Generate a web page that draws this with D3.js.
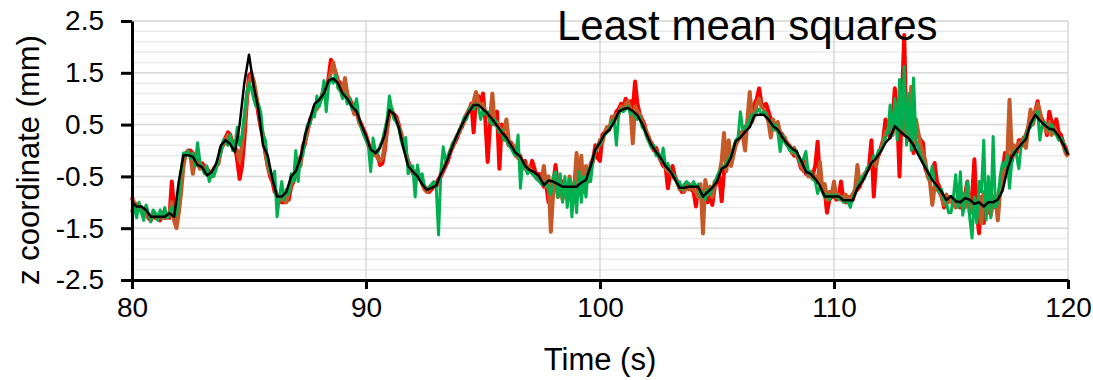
<!DOCTYPE html>
<html>
<head>
<meta charset="utf-8">
<script src="https://cdn.jsdelivr.net/npm/d3@7"></script>
<style>
  html, body { margin: 0; padding: 0; background: #fff; overflow: hidden; }
  svg { display: block; }
</style>
</head>
<body>
<div id="plot"></div>
<script>
// Tick values
const xTicks = [80, 90, 100, 110, 120];
const yTicks = [-2.5, -1.5, -0.5, 0.5, 1.5, 2.5];

// Time grid: coloured series every 0.1 s, black every 0.2 s, from 80 s
const tStart = 80;
const stepFine = 0.1;
const stepCoarse = 0.2;

// z coordinate (mm), one row per second
const redZ = [
  -0.9,-1.1,-1.15,-1.05,-1.12,-1.2,-1.1,-1.3,-1.35,-1.25,
  -1.3,-1.25,-1.35,-1.2,-1.3,-1.25,-1.3,-0.6,-1.1,-1.3,
  -1.1,-0.6,-0.2,-0.05,0.0,0.0,-0.05,-0.15,-0.2,-0.3,
  -0.25,-0.3,-0.35,-0.4,-0.45,-0.35,-0.3,-0.2,0.0,0.15,
  0.25,0.35,0.3,0.15,0.1,-0.2,-0.55,-0.3,0.2,0.9,
  1.45,1.5,1.3,1.05,0.7,0.45,0.25,-0.05,-0.3,-0.5,
  -0.6,-0.8,-0.85,-0.95,-1.0,-1.0,-0.9,-0.95,-0.7,-0.6,
  -0.45,-0.35,-0.2,0.0,0.15,0.4,0.55,0.7,0.75,0.9,
  0.95,1.0,1.15,1.2,1.4,1.75,1.65,1.5,1.35,1.3,
  1.15,1.2,1.05,1.0,0.9,0.8,0.75,0.6,0.5,0.4,
  0.3,0.15,0.0,-0.05,0.0,-0.1,-0.28,-0.25,0.0,0.4,
  0.7,0.75,0.7,0.65,0.5,0.3,0.1,-0.05,-0.2,-0.35,
  -0.4,-0.45,-0.5,-0.55,-0.6,-0.7,-0.75,-0.8,-0.75,-0.7,
  -0.65,-0.55,-0.5,-0.4,-0.3,-0.2,-0.05,0.1,0.15,0.25,
  0.4,0.45,0.6,0.7,0.75,0.9,0.35,0.95,1.05,0.9,
  1.1,0.6,-0.22,0.5,0.8,0.7,0.75,-0.35,0.5,0.3,
  0.25,0.1,0.15,0.0,-0.1,-0.05,-0.15,-0.25,-0.2,-0.4,
  -0.4,-0.2,-0.35,-0.54,-0.45,-0.6,-0.7,-0.65,-1.0,-0.6,
  -0.65,-0.28,-0.7,-0.8,-0.6,-0.75,-0.9,-0.7,-0.8,-0.65,
  -0.7,-0.8,-0.6,-0.75,-0.65,-0.5,-0.35,-0.2,0.1,-0.15,
  -0.2,0.3,0.35,0.4,0.45,0.5,0.6,0.75,0.8,0.9,
  0.85,1.0,0.9,0.95,0.8,1.33,0.9,0.7,0.6,0.5,
  0.3,0.2,0.15,0.0,0.05,-0.1,-0.2,-0.3,-0.3,-0.73,
  -0.45,-0.3,-0.5,-0.6,-0.7,-0.8,-0.75,-0.7,-0.65,-0.75,
  -0.8,-1.08,-0.7,-0.85,-0.9,-0.75,-1.0,-0.8,-1.05,-0.7,
  -0.6,-0.5,-0.98,-0.4,-0.3,-0.25,-0.1,0.0,0.15,0.2,
  0.3,0.35,0.45,0.5,0.8,0.65,0.9,1.0,1.2,0.9,
  0.85,0.9,0.75,0.6,0.55,0.5,0.45,0.35,0.3,0.2,
  0.15,0.05,0.0,-0.1,-0.05,-0.2,-0.35,-0.2,-0.45,-0.4,
  -0.5,-0.45,-0.3,0.17,-0.6,-0.7,-0.75,-1.2,-0.95,-0.9,
  -0.85,-0.95,-0.9,-0.6,-0.95,-1.0,-0.9,-1.0,-0.95,-0.8,
  -0.75,-0.7,-0.55,-0.5,-0.4,-0.3,0.2,-0.89,-0.2,-0.1,
  0.05,0.2,0.6,0.35,0.25,0.6,1.2,0.7,-0.5,0.9,
  2.23,0.3,0.6,1.1,-0.05,0.45,0.3,0.2,0.15,-0.35,
  -0.45,-0.5,-0.4,-0.24,-0.6,-0.7,-0.85,-1.1,-0.95,-0.9,
  -0.95,-1.05,-1.0,-0.9,-1.1,-1.0,-0.85,-0.6,-1.2,-0.9,
  -0.17,-1.2,-1.6,-0.9,-1.4,-1.0,-1.2,-0.8,-1.0,-1.1,
  -0.9,-0.7,-0.5,-0.05,-0.3,-0.1,-0.2,0.05,-0.05,0.2,
  0.2,0.1,0.3,0.45,0.55,0.6,0.75,0.95,0.7,0.6,
  0.5,0.3,0.75,0.55,0.45,0.6,0.35,0.3,0.15,0.05,
  -0.1
];

const brownZ = [
  -1.2,-1.0,-1.05,-1.15,-1.1,-1.25,-1.18,-1.25,-1.3,-1.2,
  -1.25,-1.3,-1.2,-1.3,-1.25,-1.3,-1.2,-1.0,-1.35,-1.5,
  -1.2,-0.8,-0.3,-0.05,-0.05,-0.1,-0.45,-0.2,-0.25,-0.35,
  -0.3,-0.35,-0.4,-0.45,-0.5,-0.4,-0.3,-0.25,0.05,0.1,
  0.2,0.3,0.25,0.1,0.05,0.0,-0.2,0.1,0.5,1.0,
  1.3,1.45,1.35,1.1,0.8,0.5,0.3,0.0,-0.3,-0.45,
  -0.55,-0.7,-0.9,-0.85,-0.95,-0.95,-1.0,-0.8,-0.65,-0.55,
  -0.4,-0.15,-0.3,0.1,0.2,0.35,0.6,0.65,0.85,0.8,
  0.9,1.05,1.2,1.25,1.35,1.5,1.7,1.45,1.3,1.25,
  1.1,1.4,1.1,0.95,0.85,0.7,0.75,0.55,0.45,0.35,
  0.25,0.1,0.05,-0.1,-0.05,-0.15,-0.2,-0.15,0.1,0.45,
  0.75,0.8,0.65,0.6,0.45,0.35,0.15,-0.05,-0.25,-0.3,
  -0.45,-0.4,-0.55,-0.5,-0.65,-0.75,-0.8,-0.75,-0.7,-0.7,
  -0.7,-0.6,-0.45,-0.35,-0.25,-0.15,0.0,0.05,0.2,0.3,
  0.35,0.5,0.55,0.7,0.8,0.85,0.95,1.13,0.95,0.85,
  0.9,0.75,0.7,0.6,1.1,0.5,0.55,0.45,0.35,0.4,
  0.6,0.2,0.05,0.1,-0.05,-0.15,-0.1,-0.3,-0.35,-0.3,
  -0.35,-0.4,-0.45,-0.5,-0.55,-0.6,-0.3,-0.7,-0.5,-1.57,
  -0.8,-0.5,-0.9,-0.6,-0.95,-0.7,-0.85,-0.5,-0.9,-0.7,
  -0.05,-0.85,-0.1,-0.8,-0.3,-0.6,-0.25,-0.15,0.0,0.05,
  0.2,0.15,0.35,0.45,0.4,0.65,0.55,0.7,0.7,0.85,
  0.8,0.9,0.95,0.8,0.14,0.85,0.75,0.7,0.55,0.45,
  0.35,0.25,0.1,0.05,-0.05,-0.1,-0.15,-0.2,-0.35,-0.4,
  -0.4,-0.5,-0.55,-0.6,-0.75,-0.7,-0.8,-0.7,-0.75,-0.7,
  -0.75,-0.8,-0.9,-0.65,-1.6,-0.57,-0.85,-0.7,-0.9,-0.6,
  -0.55,-0.45,-0.2,0.34,-0.4,0.2,-0.3,-0.1,0.1,0.2,
  0.35,0.3,0.0,0.6,1.13,0.55,0.7,0.9,1.0,0.85,
  0.8,0.7,0.55,0.25,0.6,0.4,0.55,0.3,0.2,0.25,
  0.1,0.1,-0.05,0.05,-0.1,-0.15,-0.3,-0.4,-0.25,-0.5,
  -0.45,-0.55,-0.5,-0.6,-0.22,-0.75,-0.65,-0.95,-0.8,-0.85,
  -0.6,-0.9,-0.85,-0.95,-0.9,-0.85,-1.0,-0.9,-0.85,-0.75,
  -0.28,-0.65,-0.6,-0.45,-0.4,-0.35,-0.25,-0.15,-0.3,-0.05,
  0.0,0.15,0.35,0.4,0.55,0.3,0.65,0.9,0.4,1.0,
  0.3,1.0,0.2,1.23,0.05,0.6,0.35,0.1,-0.05,-0.2,
  -0.5,-0.6,-1.05,-0.7,-0.75,-0.8,-0.9,-1.05,-0.85,-1.0,
  -0.9,-1.0,-1.1,-0.95,-1.05,-0.85,-1.1,-0.7,-1.0,-1.2,
  -1.0,-1.3,-0.9,-1.4,-0.8,-1.1,-0.85,-1.25,-1.0,-0.9,
  -1.35,-0.8,-0.55,-0.3,-0.2,0.98,-0.05,0.1,0.0,0.15,
  0.15,0.25,0.05,0.45,0.79,0.5,0.7,0.9,0.75,0.55,
  0.5,0.35,0.55,0.3,0.45,0.35,0.25,0.2,0.1,-0.05,
  -0.12
];

const greenZ = [
  -1.0,-1.1,-1.3,-1.0,-1.2,-1.35,-1.05,-1.2,-1.38,-1.15,
  -1.2,-1.35,-1.15,-1.3,-1.1,-1.3,-1.25,-1.1,-1.2,-1.25,
  -0.9,-0.4,-0.05,-0.1,0.0,-0.15,-0.05,-0.3,0.15,-0.2,
  -0.35,-0.45,-0.3,-0.6,-0.45,-0.5,-0.35,-0.15,-0.05,0.2,
  0.15,0.1,0.3,0.0,0.1,0.45,0.1,0.3,0.7,1.1,
  1.3,1.2,1.0,0.85,0.9,0.75,0.3,0.2,-0.2,-0.4,
  -0.5,-0.4,-1.28,-0.9,-0.6,-0.95,-0.75,-0.85,-0.45,-0.6,
  0.0,-0.6,-0.1,-0.1,0.3,0.5,0.5,0.7,0.65,1.05,
  0.85,1.0,1.35,0.75,1.25,1.4,1.3,1.45,1.2,1.15,
  1.0,1.1,0.9,1.0,0.8,0.85,1.0,0.6,0.45,0.3,
  0.2,0.1,-0.41,0.24,0.0,-0.05,0.1,0.2,0.4,0.6,
  1.05,0.8,0.6,0.55,0.45,0.2,0.05,0.25,-0.45,-0.3,
  -0.3,-0.9,-0.28,-0.55,-0.45,-0.7,-0.75,-0.7,-0.65,-0.6,
  -0.7,-1.63,-0.4,0.07,-0.2,-0.1,0.0,0.15,0.2,0.3,
  0.4,0.5,0.65,0.6,0.8,0.85,0.8,0.9,0.85,0.6,
  0.8,0.7,0.75,0.55,0.5,0.6,0.45,0.35,0.4,0.2,
  0.2,0.1,0.05,-0.05,-0.1,0.3,-0.73,-0.2,-0.3,-0.45,
  -0.4,-0.45,-0.5,-0.55,-0.6,-0.65,-0.67,-0.6,-0.75,-0.85,
  -0.5,-0.41,-0.9,-0.45,-1.0,-0.5,-1.1,-0.55,-1.28,-0.6,
  -1.2,-0.4,-1.0,-0.5,-0.9,-0.35,-0.6,-0.2,0.0,0.1,
  0.1,0.25,0.3,0.35,0.4,0.55,0.6,0.1,0.7,0.8,
  0.75,0.8,0.85,0.7,0.75,0.65,0.6,0.65,0.45,0.4,
  0.25,0.15,0.05,0.1,-0.1,-0.05,-0.2,0.05,-0.3,-0.25,
  -0.4,-0.45,-0.5,-0.65,-0.6,-0.75,-0.65,-0.6,-0.65,-0.7,
  -0.6,-0.7,-0.65,-0.9,-0.8,-0.95,-0.75,-0.85,-0.7,-0.65,
  -0.5,-0.4,-0.35,-0.3,-0.25,-0.15,-0.1,0.05,0.2,0.25,
  0.75,0.4,0.45,0.5,0.6,0.7,0.65,0.75,0.8,0.7,
  0.75,0.7,0.6,0.55,0.4,0.5,0.35,-0.02,0.3,0.15,
  0.1,0.0,0.05,-0.05,0.0,-0.2,-0.25,-0.15,-0.02,-0.45,
  -0.4,-0.55,-0.6,-0.83,-0.7,-0.8,-0.9,-0.85,-0.95,-0.85,
  -0.9,-0.85,-0.95,-0.9,-1.0,-0.95,-1.0,-1.1,-0.9,-0.85,
  -0.7,-0.6,-0.5,-0.55,-0.35,-0.3,-0.25,-0.1,-0.15,0.0,
  0.0,0.1,0.25,0.35,0.88,0.3,1.0,0.2,1.37,0.4,
  1.62,0.1,1.1,0.0,1.4,0.2,0.05,-0.1,-0.2,-0.3,
  -0.4,-0.55,-0.3,-0.65,-0.7,-0.8,-0.75,-0.95,-1.0,-1.2,
  -1.2,-0.9,-0.47,-1.1,-0.41,-1.25,-1.0,-0.6,-1.3,-1.69,
  -0.9,-1.4,-0.6,-0.8,0.2,-1.34,-0.5,-1.3,0.27,-1.1,
  -1.0,-0.5,-0.24,-0.3,-0.1,-0.73,-0.2,0.0,-0.1,-0.35,
  0.1,0.2,0.3,0.4,0.45,0.55,0.65,0.75,0.2,0.5,
  0.55,0.45,0.4,0.5,0.35,0.3,0.2,0.25,0.15,0.0,
  -0.05
];

// Black reference, every 0.2 s
const blackZ = [
  -1.0,-1.08,-1.08,-1.15,-1.28,
  -1.28,-1.28,-1.28,-1.21,-1.28,
  -0.6,-0.09,-0.09,-0.12,-0.28,
  -0.32,-0.48,-0.42,-0.25,0.1,
  0.2,0.12,-0.03,0.5,1.3,
  1.85,1.25,0.8,0.1,-0.1,
  -0.55,-0.89,-0.89,-0.8,-0.5,
  -0.4,-0.15,0.3,0.6,0.9,
  0.98,1.1,1.35,1.39,1.3,
  1.1,1.0,0.85,0.75,0.5,
  0.28,0.02,-0.05,0.05,0.3,
  0.78,0.7,0.45,0.05,-0.3,
  -0.41,-0.5,-0.65,-0.76,-0.72,
  -0.68,-0.45,-0.28,-0.03,0.2,
  0.4,0.59,0.75,0.88,0.88,
  0.8,0.71,0.6,0.48,0.35,
  0.25,0.1,-0.05,-0.12,-0.3,
  -0.38,-0.42,-0.5,-0.67,-0.58,
  -0.6,-0.65,-0.7,-0.7,-0.7,
  -0.7,-0.62,-0.57,-0.3,0.02,
  0.15,0.32,0.4,0.55,0.75,
  0.8,0.82,0.76,0.68,0.52,
  0.3,0.1,-0.03,-0.15,-0.3,
  -0.4,-0.55,-0.72,-0.72,-0.7,
  -0.7,-0.7,-0.89,-0.8,-0.72,
  -0.6,-0.35,-0.3,-0.13,0.18,
  0.25,0.36,0.45,0.68,0.69,
  0.69,0.6,0.47,0.4,0.25,
  0.13,0.04,-0.02,-0.2,-0.41,
  -0.45,-0.55,-0.68,-0.89,-0.89,
  -0.89,-0.89,-0.96,-0.96,-0.96,
  -0.73,-0.6,-0.43,-0.24,-0.15,
  -0.02,0.15,0.25,0.47,0.38,
  0.3,0.23,0.1,-0.08,-0.25,
  -0.41,-0.57,-0.68,-0.8,-0.96,
  -0.88,-0.98,-1.0,-0.92,-0.95,
  -1.03,-1.0,-1.08,-1.0,-1.0,
  -0.95,-0.78,-0.38,-0.12,0.01,
  0.12,0.22,0.52,0.69,0.58,
  0.49,0.42,0.4,0.28,0.12,
  -0.08
];

const fontFamily = "Liberation Sans, Arial, sans-serif";

// Dimensions
const w = 1093;
const h = 380;
const margin = { top: 21, right: 25, bottom: 100, left: 132 };
const innerWidth = w - margin.left - margin.right;
const innerHeight = h - margin.top - margin.bottom;

const svg = d3.select("div#plot")
  .append("svg")
  .attr("width", w)
  .attr("height", h)
  .attr("font-family", fontFamily);

const g = svg.append("g")
  .attr("transform", `translate(${margin.left}, ${margin.top})`);

// Scales
const xScale = d3.scaleLinear().domain([80, 120]).range([0, innerWidth]);
const yScale = d3.scaleLinear().domain([-2.5, 2.5]).range([innerHeight, 0]);

// Minor horizontal grid every 0.2
const minorY = d3.range(0, 26).map(i => -2.5 + i * 0.2);
g.append("g")
  .selectAll("line")
  .data(minorY)
  .enter().append("line")
  .attr("x1", 0)
  .attr("x2", innerWidth)
  .attr("y1", d => yScale(d))
  .attr("y2", d => yScale(d))
  .attr("stroke", "#ebebeb")
  .attr("stroke-width", 1.5);

// Major grid
g.append("g")
  .selectAll("line")
  .data(yTicks)
  .enter().append("line")
  .attr("x1", 0)
  .attr("x2", innerWidth)
  .attr("y1", d => yScale(d))
  .attr("y2", d => yScale(d))
  .attr("stroke", "#d9d9d9")
  .attr("stroke-width", 1.5);

g.append("g")
  .selectAll("line")
  .data(xTicks.slice(1))
  .enter().append("line")
  .attr("x1", d => xScale(d))
  .attr("x2", d => xScale(d))
  .attr("y1", 0)
  .attr("y2", innerHeight)
  .attr("stroke", "#d9d9d9")
  .attr("stroke-width", 1.5);

// Lines
const fine = arr => arr.map((v, i) => ({ t: tStart + i * stepFine, z: v }));
const coarse = arr => arr.map((v, i) => ({ t: tStart + i * stepCoarse, z: v }));

const line = d3.line()
  .x(d => xScale(d.t))
  .y(d => yScale(d.z));

const series = [
  { data: fine(redZ), color: "#ff0000", width: 4 },
  { data: fine(brownZ), color: "#c55a28", width: 4 },
  { data: fine(greenZ), color: "#00b050", width: 3 },
  { data: coarse(blackZ), color: "#000000", width: 2.5 }
];

series.forEach(s => {
  g.append("path")
    .datum(s.data)
    .attr("fill", "none")
    .attr("stroke", s.color)
    .attr("stroke-width", s.width)
    .attr("stroke-linejoin", "round")
    .attr("d", line);
});

// Axes
const xAxis = g.append("g")
  .attr("transform", `translate(0, ${innerHeight})`)
  .call(d3.axisBottom(xScale).tickValues(xTicks).tickSize(9).tickSizeOuter(0).tickPadding(8).tickFormat(d3.format("d")));

const yAxis = g.append("g")
  .call(d3.axisLeft(yScale).tickValues(yTicks).tickSize(11).tickSizeOuter(0).tickPadding(17).tickFormat(d => String(d)));

[xAxis, yAxis].forEach(a => {
  a.attr("font-size", 28).attr("font-family", fontFamily);
  a.select(".domain").attr("stroke", "#000").attr("stroke-width", 3);
  a.selectAll(".tick line").attr("stroke", "#000").attr("stroke-width", 3);
  a.selectAll(".tick text").attr("fill", "#000");
});

// Titles
svg.append("text")
  .attr("x", 557)
  .attr("y", 40)
  .attr("font-size", 42)
  .attr("fill", "#000")
  .text("Least mean squares");

svg.append("text")
  .attr("x", margin.left + innerWidth / 2)
  .attr("y", 370)
  .attr("text-anchor", "middle")
  .attr("font-size", 31)
  .attr("fill", "#000")
  .text("Time (s)");

svg.append("text")
  .attr("transform", "translate(39, 160) rotate(-90)")
  .attr("text-anchor", "middle")
  .attr("font-size", 31)
  .attr("fill", "#000")
  .text("z coordinate (mm)");
</script>
</body>
</html>
